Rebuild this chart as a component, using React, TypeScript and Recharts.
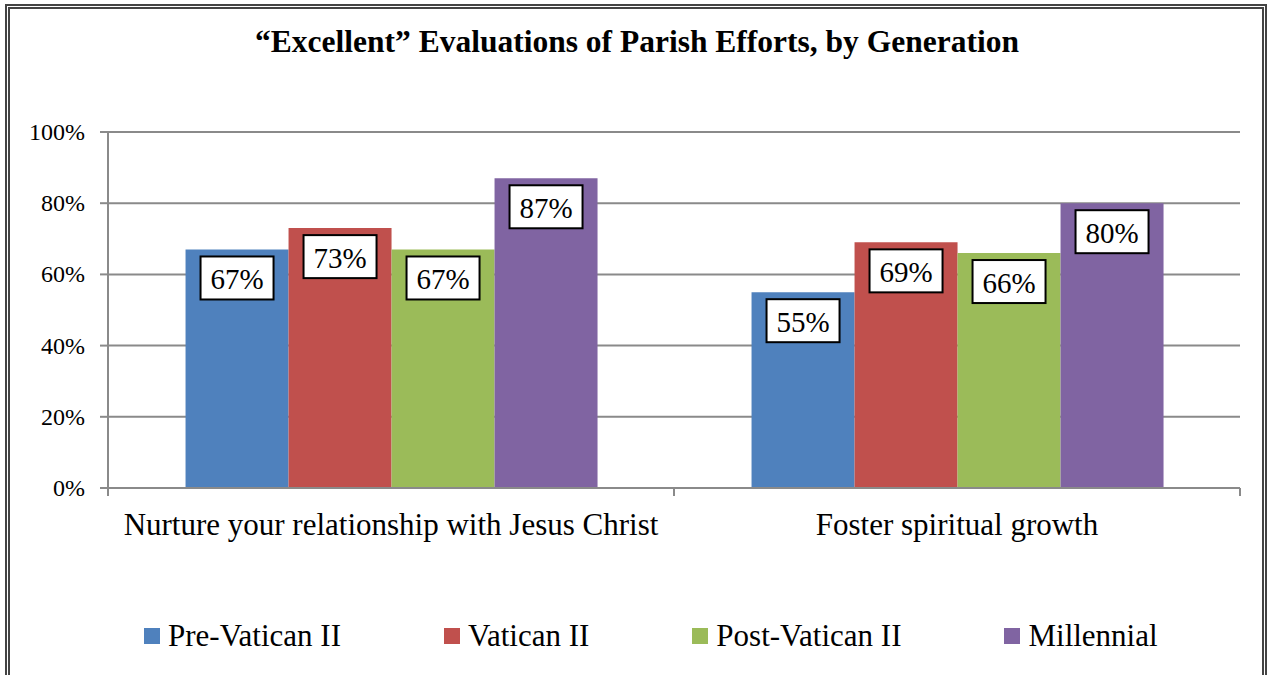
import React from 'react';
import { BarChart, Bar, XAxis, YAxis, CartesianGrid, LabelList, Legend } from 'recharts';

const categories = ['Nurture your relationship with Jesus Christ', 'Foster spiritual growth'];
const preVatican = [67, 55];
const vatican = [73, 69];
const postVatican = [67, 66];
const millennial = [87, 80];
const yTicks = [0, 20, 40, 60, 80, 100];

const seriesNames = ['Pre-Vatican II', 'Vatican II', 'Post-Vatican II', 'Millennial'];
const seriesKeys = ['pre', 'vat', 'post', 'mil'];
const seriesColors = ['#4F81BD', '#C0504D', '#9BBB59', '#8064A2'];

const data = categories.map((c, i) => ({
  name: c,
  pre: preVatican[i],
  vat: vatican[i],
  post: postVatican[i],
  mil: millennial[i],
}));

const FONT = "'Liberation Serif', 'Times New Roman', serif";

const BoxLabel = (props: any) => {
  const { x, y, width, value } = props;
  const cx = x + width / 2;
  const bw = 73;
  const bh = 43;
  const top = y + 7;
  return (
    <g>
      <rect x={cx - bw / 2} y={top} width={bw} height={bh} fill="#fff" stroke="#000" strokeWidth={2} />
      <text x={cx} y={top + bh / 2 + 1} textAnchor="middle" dominantBaseline="central" style={{ fontSize: 29, fontFamily: FONT }} fill="#000">
        {value}%
      </text>
    </g>
  );
};

const YTick = (props: any) => {
  const { x, y, payload } = props;
  return (
    <text x={x} y={y} textAnchor="end" dominantBaseline="central" style={{ fontSize: 24, fontFamily: FONT }} fill="#000">
      {payload.value}%
    </text>
  );
};

const CatTick = (props: any) => {
  const { x, y, payload, index, visibleTicksCount } = props;
  const off = payload.offset || 0;
  const isLast = index === (visibleTicksCount ?? categories.length) - 1;
  return (
    <g>
      <line x1={x - off} x2={x - off} y1={y - 8} y2={y} stroke="#8a8a8a" strokeWidth={2} />
      {isLast && <line x1={x + off} x2={x + off} y1={y - 8} y2={y} stroke="#8a8a8a" strokeWidth={2} />}
      <text x={x} y={y + 39} textAnchor="middle" style={{ fontSize: 31, fontFamily: FONT }} fill="#000">
        {payload.value}
      </text>
    </g>
  );
};

const LegendContent = () => (
  <div style={{ display: 'flex', alignItems: 'center', gap: 103, paddingLeft: 144, fontFamily: FONT, fontSize: 31, color: '#000' }}>
    {seriesNames.map((n, i) => (
      <div key={n} style={{ display: 'flex', alignItems: 'center' }}>
        <span style={{ display: 'inline-block', width: 16, height: 16, background: seriesColors[i], marginRight: 8 }} />
        <span style={{ lineHeight: '34px' }}>{n}</span>
      </div>
    ))}
  </div>
);

export default function App() {
  return (
    <div style={{ position: 'absolute', left: 0, top: 0, width: 1268, height: 675, overflow: 'hidden', background: '#fff', fontFamily: FONT }}>
      <div
        style={{
          position: 'absolute',
          left: 5,
          top: 4,
          width: 1262,
          height: 700,
          boxSizing: 'border-box',
          border: '5px double #444',
        }}
      />
      <div
        style={{
          position: 'absolute',
          left: 0,
          top: 26,
          width: 1274,
          textAlign: 'center',
          fontFamily: FONT,
          fontWeight: 'bold',
          fontSize: 31.5,
          lineHeight: '31px',
          color: '#000',
        }}
      >
        “Excellent” Evaluations of Parish Efforts, by Generation
      </div>
      <div style={{ position: 'absolute', left: 0, top: 0 }}>
        <BarChart
          width={1268}
          height={675}
          data={data}
          margin={{ top: 132, right: 28, left: 0, bottom: 157 }}
          barCategoryGap="13.7%"
          barGap={0}
        >
          <CartesianGrid vertical={false} stroke="#8a8a8a" strokeWidth={2} />
          <YAxis
            width={108}
            domain={[0, 100]}
            ticks={yTicks}
            interval={0}
            axisLine={{ stroke: '#8a8a8a', strokeWidth: 2 }}
            tickLine={{ stroke: '#8a8a8a', strokeWidth: 2 }}
            tickSize={8}
            tickMargin={15}
            tick={<YTick />}
          />
          <XAxis
            dataKey="name"
            height={30}
            axisLine={{ stroke: '#8a8a8a', strokeWidth: 2 }}
            tickLine={false}
            tickSize={8}
            tickMargin={0}
            interval={0}
            tick={<CatTick />}
          />
          <Legend
            verticalAlign="middle"
            align="center"
            layout="horizontal"
            content={<LegendContent />}
            wrapperStyle={{ position: 'absolute', top: 619, left: 0, width: 1268 }}
          />
          {seriesKeys.map((k, i) => (
            <Bar key={k} dataKey={k} name={seriesNames[i]} fill={seriesColors[i]} isAnimationActive={false}>
              <LabelList dataKey={k} content={<BoxLabel />} />
            </Bar>
          ))}
        </BarChart>
      </div>
    </div>
  );
}
